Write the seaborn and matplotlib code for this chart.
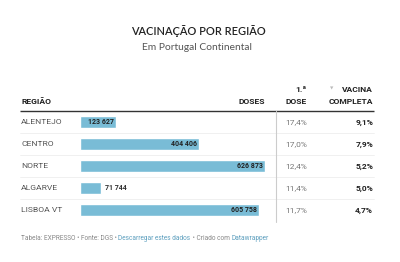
import matplotlib
matplotlib.use("Agg")
import matplotlib.pyplot as plt
import seaborn as sns
import pandas as pd

regions = ["ALENTEJO", "CENTRO", "NORTE", "ALGARVE", "LISBOA VT"]
doses = [123627, 404406, 626873, 71744, 605758]
dose1 = ["17,4%", "17,0%", "12,4%", "11,4%", "11,7%"]
completa = ["9,1%", "7,9%", "5,2%", "5,0%", "4,7%"]

sns.set_theme(style="white")
plt.rcParams['font.family'] = ['Roboto', 'DejaVu Sans']

W, H = 400, 262
fig = plt.figure(figsize=(W / 100, H / 100), dpi=100)
fig.patch.set_facecolor("white")

# overlay axes in pixel coordinates
ov = fig.add_axes([0, 0, 1, 1])
ov.set_xlim(0, W)
ov.set_ylim(H, 0)
ov.axis("off")

# bar axes: x 80..265 px, y 111..221 px
x0, x1 = 80, 265
y0, y1 = 111, 221
ax = fig.add_axes([x0 / W, 1 - y1 / H, (x1 - x0) / W, (y1 - y0) / H])
df = pd.DataFrame({"region": regions, "doses": doses})
sns.barplot(data=df, x="doses", y="region", color="#79bcd6", saturation=1,
            width=0.55, ax=ax, orient="h")
ax.set_xlim(0, max(doses))
ax.set_ylim(4.5, -0.5)
ax.axis("off")
ax.patch.set_alpha(0)

fmt = lambda v: f"{v:,}".replace(",", " ")
for i, v in enumerate(doses):
    lab = fmt(v)
    if v > 100000:
        ax.text(v - max(doses) * 0.012, i, lab, ha="right", va="center",
                fontsize=5.0, color="#222222", fontweight="bold")
    else:
        ax.text(v + max(doses) * 0.02, i, lab, ha="left", va="center",
                fontsize=5.0, color="#333333", fontweight="bold")

# title
ov.text(198, 31, "VACINAÇÃO POR REGIÃO", ha="center", va="center",
        fontsize=7.9, color="#222222", family=["Lato", "DejaVu Sans"], fontweight="semibold")
ov.text(197, 47, "Em Portugal Continental", ha="center", va="center",
        fontsize=7.4, color="#555555", family=["Lato", "DejaVu Sans"])

# header
hdr = dict(fontsize=6.1, color="#222222", fontweight="bold")
ov.text(21, 101, "REGIÃO", ha="left", va="center", **hdr)
ov.text(265, 101, "DOSES", ha="right", va="center", **hdr)
ov.text(307, 89, "1.ª", ha="right", va="center", **hdr)
ov.text(307, 101, "DOSE", ha="right", va="center", **hdr)
ov.text(373, 89, "VACINA", ha="right", va="center", **hdr)
ov.text(373, 101, "COMPLETA", ha="right", va="center", **hdr)
ov.text(333, 89, "▼", ha="right", va="center", fontsize=3.2, color="#bbbbbb",
        family=["DejaVu Sans"])

ov.plot([20, 374], [111, 111], color="#333333", lw=1.0, solid_capstyle="butt")
for i in range(1, 5):
    yy = y0 + 22 * i
    ov.plot([20, 374], [yy, yy], color="#eeeeee", lw=0.6)
ov.plot([275.5, 275.5], [111, 222], color="#cccccc", lw=0.8)

for i, r in enumerate(regions):
    yc = 122 + 22 * i
    ov.text(21, yc, r, ha="left", va="center", fontsize=6.1, color="#555555")
    ov.text(307, yc, dose1[i], ha="right", va="center", fontsize=6.0, color="#777777")
    ov.text(373, yc, completa[i], ha="right", va="center", fontsize=6.0,
            color="#222222", fontweight="bold")

# footer
foot_y = 238
parts = [("Tabela: EXPRESSO • Fonte: DGS • ", "#888888"),
         ("Descarregar estes dados", "#5d9fbe"),
         (" • Criado com ", "#888888"),
         ("Datawrapper", "#5d9fbe")]
fig.canvas.draw()
renderer = fig.canvas.get_renderer()
xp = 21
for txt, col in parts:
    t = ov.text(xp, foot_y, txt, ha="left", va="center", fontsize=4.7, color=col)
    bb = t.get_window_extent(renderer=renderer)
    xp += bb.width

fig.savefig("out.png", dpi=100, facecolor="white")
